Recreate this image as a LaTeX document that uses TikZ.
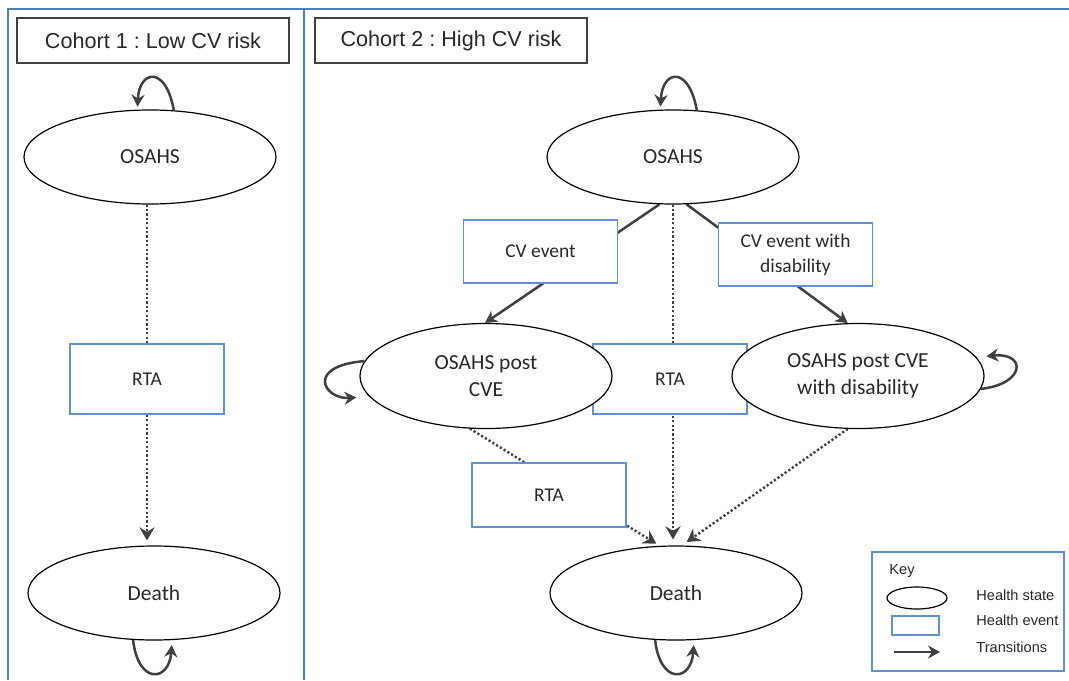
\documentclass[tikz,border=0pt]{standalone}
\usepackage{fontspec}
\newfontfamily\carlitofont{Carlito}
\newfontfamily\arialfont{Liberation Sans}
\usetikzlibrary{shapes.geometric,arrows.meta,backgrounds}
\definecolor{boxblue}{RGB}{96,145,214}
\definecolor{frameblue}{RGB}{74,126,193}
\definecolor{arrowgray}{RGB}{64,64,64}
\definecolor{textgray}{RGB}{40,40,40}
\frenchspacing
\tikzset{
  state/.style={ellipse, draw=black, line width=0.6pt, fill=white, inner sep=0pt,
    minimum width=126pt, minimum height=47pt, text=textgray, align=center,
    font=\carlitofont\fontsize{10.75}{13.5}\selectfont},
  bigstate/.style={state, minimum height=52.5pt},
  eventbox/.style={rectangle, draw=boxblue, line width=0.75pt, fill=white, inner sep=0pt,
    minimum width=77pt, text=textgray, align=center,
    font=\carlitofont\fontsize{9.75}{12.5}\selectfont},
  titlebox/.style={rectangle, draw=arrowgray, line width=0.7pt, fill=white, inner sep=0pt,
    minimum width=136pt, minimum height=22.5pt, text=textgray,
    font=\arialfont\fontsize{10.8}{13}\selectfont},
  keytext/.style={anchor=west, inner sep=0pt, text=textgray, font=\arialfont\fontsize{7.3}{9}\selectfont},
  tip/.style={-{Stealth[length=6pt,width=6.5pt,inset=2pt]}},
  dottip/.style={-{Stealth[length=6.5pt,width=7.5pt,inset=2.2pt]}},
  arr/.style={draw=arrowgray, line width=1.25pt, tip},
  dotline/.style={draw=arrowgray, line width=1.2pt, dash pattern=on 1.1pt off 1.1pt},
  dotarr/.style={dotline, dottip},
  frameline/.style={draw=frameblue, line width=1pt}
}
\begin{document}
\begin{tikzpicture}[x=0.5pt,y=-0.5pt]
\useasboundingbox (0,0) rectangle (1069,680);
% titles
\node[titlebox] (title1) at (153,40.5) {Cohort 1 : Low CV risk};
\node[titlebox] (title2) at (451,40.5) {Cohort 2 : High CV risk};
% cohort 1
\node[state] (osahs1) at (150,157) {OSAHS};
\node[eventbox, minimum height=35pt] (rta1) at (147,379) {RTA};
\node[state] (death1) at (154,593) {Death};
% cohort 2
\node[state] (osahs2) at (673,157) {OSAHS};
\node[eventbox, minimum height=31.5pt] (cve) at (540.5,251.5) {CV event};
\node[eventbox, minimum height=31.5pt] (cvd) at (795.5,254.5) {CV event with\\disability};
\node[eventbox, minimum height=35pt] (rtam) at (670,379) {RTA};
\node[bigstate] (pcve) at (486,376) {OSAHS post\\CVE};
\node[bigstate] (pcvd) at (858,376) {OSAHS post CVE\\with disability};
\node[eventbox, minimum height=32pt] (rtal) at (549,495) {RTA};
\node[state] (death2) at (676,593) {Death};
% key
\node[rectangle, draw=boxblue, line width=0.75pt, minimum width=96pt, minimum height=59.5pt, inner sep=0pt] (keybox) at (968,611.5) {};
\node[keytext] (keylabel) at (889,571) {Key};
\node[ellipse, draw=black, line width=0.6pt, minimum width=30pt, minimum height=11pt, inner sep=0pt] (keystate) at (917,598) {};
\node[rectangle, draw=boxblue, line width=0.75pt, minimum width=23.5pt, minimum height=9.5pt, inner sep=0pt] (keyevent) at (915.5,625.5) {};
\coordinate (keyA) at (894,652);
\coordinate (keyB) at (940,652);
\node[keytext] (lstate) at (976,595) {Health state};
\node[keytext] (levent) at (976,620) {Health event};
\node[keytext] (ltrans) at (976,647) {Transitions};
\draw[arr] (keyA) -- (keyB);
% background, frames and connectors behind nodes
\begin{pgfonlayer}{background}
\fill[white] (0,0) rectangle (1069,680);
\draw[frameline] (8,680) -- (8,9) -- (1069,9);
\draw[frameline] (304,9) -- (304,680);
\draw[dotline] (rta1.north |- osahs1.south) -- (rta1.north);
\draw[dotarr, shorten >=2.5pt] (rta1.south) -- (rta1.south |- death1.north);
\draw[arr] (osahs2.254) -- (pcve.91);
\draw[arr] (osahs2.286) -- (pcvd.101);
\draw[dotarr, shorten >=3pt] (osahs2.south) -- (osahs2.south |- death2.north);
\draw[dotarr, shorten >=2pt] (pcve.253) -- (death2.109);
\draw[dotarr, shorten >=3pt] (pcvd.259) -- (death2.83);
\end{pgfonlayer}
% self loops
\draw[arr, shorten >=1.5pt] (osahs1.63) .. controls +(-8,-45) and +(2,-40) .. (osahs1.105);
\draw[arr, shorten >=1.5pt] (osahs2.63) .. controls +(-8,-45) and +(2,-40) .. (osahs2.105);
\draw[arr, shorten >=2.5pt] (death1.246) .. controls +(5,45) and +(-3,42) .. (death1.291);
\draw[arr, shorten >=2.5pt] (death2.246) .. controls +(5,45) and +(-3,42) .. (death2.291);
\draw[arr, shorten >=6.5pt] (pcve.173) .. controls +(-60,5) and +(-45,3) .. (pcve.190);
\draw[arr, shorten >=5pt] (pcvd.354) .. controls +(45,-5) and +(50,-5) .. (pcvd.9);
\end{tikzpicture}
\end{document}
